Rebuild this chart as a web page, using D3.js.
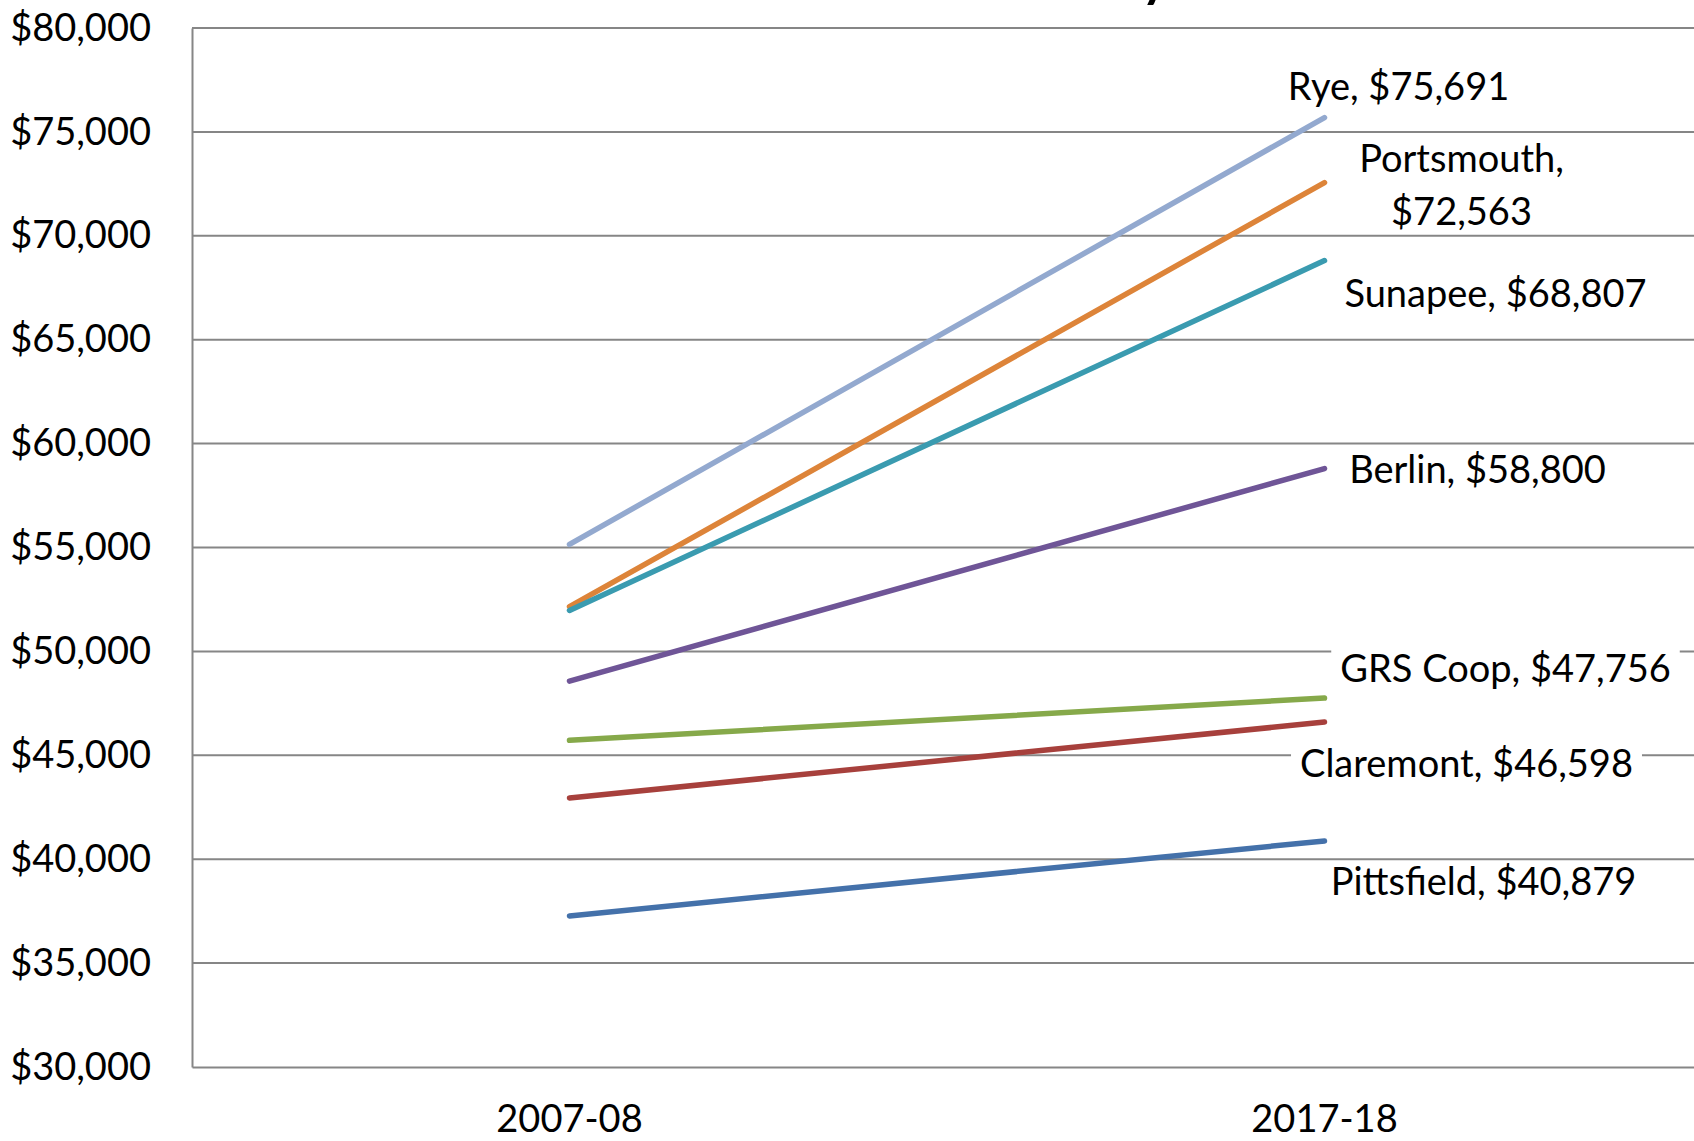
<!DOCTYPE html>
<html>
<head>
<meta charset="utf-8">
<script src="https://cdn.jsdelivr.net/npm/d3@7"></script>
<style>
  body { margin: 0; background: #fff; }
  svg { display: block; font-family: Lato, "Open Sans", sans-serif; }
</style>
</head>
<body>
<svg id="chart"></svg>
<script>
// data
var years = ["2007-08", "2017-18"];
var districts = ["Rye", "Portsmouth", "Sunapee", "Berlin", "GRS Coop", "Claremont", "Pittsfield"];
var salary0708 = [55150, 52150, 51970, 48570, 45720, 42950, 37270];
var salary1718 = [75691, 72563, 68807, 58800, 47756, 46598, 40879];
var yTicks = [30000, 35000, 40000, 45000, 50000, 55000, 60000, 65000, 70000, 75000, 80000];

// styling / layout
var colors = ["#93a9cf", "#dd8439", "#3a9bb0", "#6f5597", "#86a94a", "#a7403c", "#4471aa"];
// label offset from the 2017-18 end point: dx = text centre, dy = first baseline
var labelPos = [
  {dx: 74, dy: -18, split: false},
  {dx: 137, dy: -11, split: true},
  {dx: 171, dy: 46, split: false},
  {dx: 153, dy: 14, split: false},
  {dx: 181, dy: -16, split: false},
  {dx: 142, dy: 55, split: false},
  {dx: 159, dy: 54, split: false}
];

var W = 1694, H = 1141;
var plotLeft = 192, plotRight = 1702, plotTop = 28, plotBottom = 1067;
var fontSize = 38;
var lineGap = 53;

var svg = d3.select("#chart")
    .attr("width", W)
    .attr("height", H);

var x = d3.scaleBand()
    .domain(years)
    .range([plotLeft, plotRight])
    .padding(0);

var y = d3.scaleLinear()
    .domain([30000, 80000])
    .range([plotBottom, plotTop]);

var fmt = d3.format(",");

// cut-off title, only the descender of its last letter shows
svg.append("text")
    .attr("x", 1155)
    .attr("y", -4)
    .attr("text-anchor", "middle")
    .attr("font-size", 52)
    .attr("font-weight", "bold")
    .text("y");

// gridlines
svg.append("g")
    .selectAll("line")
    .data(yTicks.slice(1))
    .enter()
    .append("line")
    .attr("x1", plotLeft)
    .attr("x2", W)
    .attr("y1", function(d) { return y(d); })
    .attr("y2", function(d) { return y(d); })
    .attr("stroke", "#868686")
    .attr("stroke-width", 2);

// y axis
var yAxis = svg.append("g")
    .attr("transform", "translate(" + plotLeft + ",0)")
    .call(d3.axisLeft(y).tickValues(yTicks).tickSize(0).tickPadding(41)
        .tickFormat(function(d) { return "$" + fmt(d); }));
yAxis.select(".domain").attr("stroke", "#868686").attr("stroke-width", 2);
yAxis.selectAll("text")
    .attr("font-size", fontSize)
    .attr("font-family", "Lato, sans-serif")
    .attr("fill", "#000");

// x axis
var xAxis = svg.append("g")
    .attr("transform", "translate(0," + plotBottom + ")")
    .call(d3.axisBottom(x).tickSize(0).tickPadding(38));
xAxis.select(".domain").attr("stroke", "#868686").attr("stroke-width", 2);
xAxis.selectAll("text")
    .attr("font-size", fontSize)
    .attr("font-family", "Lato, sans-serif")
    .attr("fill", "#000");

var series = districts.map(function(name, i) {
  return {name: name, values: [salary0708[i], salary1718[i]], color: colors[i], pos: labelPos[i]};
});

var line = d3.line()
    .x(function(d, i) { return x(years[i]) + x.bandwidth() / 2; })
    .y(function(d) { return y(d); });

svg.append("g")
    .selectAll("path")
    .data(series)
    .enter()
    .append("path")
    .attr("d", function(d) { return line(d.values); })
    .attr("fill", "none")
    .attr("stroke", function(d) { return d.color; })
    .attr("stroke-width", 5.5)
    .attr("stroke-linecap", "round");

// data labels with white boxes
var xEnd = x(years[1]) + x.bandwidth() / 2;
var labels = svg.append("g")
    .selectAll("g")
    .data(series)
    .enter()
    .append("g");

labels.each(function(d) {
  var g = d3.select(this);
  var cx = xEnd + d.pos.dx;
  var by = y(d.values[1]) + d.pos.dy;
  var first = d.name + ",";
  var valueText = "$" + fmt(d.values[1]);
  var rect = g.append("rect").attr("fill", "#fff");
  var t = g.append("text")
      .attr("text-anchor", "middle")
      .attr("font-size", fontSize)
      .attr("fill", "#000");
  var extra = 0;
  if (d.pos.split) {
    t.append("tspan").attr("x", cx).attr("y", by).text(first);
    t.append("tspan").attr("x", cx).attr("y", by + lineGap).text(valueText);
    extra = lineGap;
  } else {
    t.attr("x", cx).attr("y", by).text(first + " " + valueText);
  }
  var bb = t.node().getBBox();
  var boxTop = by - fontSize * 0.88;
  rect.attr("x", bb.x - 9)
      .attr("y", boxTop)
      .attr("width", bb.width + 18)
      .attr("height", fontSize * 1.12 + extra);
});
</script>
</body>
</html>
